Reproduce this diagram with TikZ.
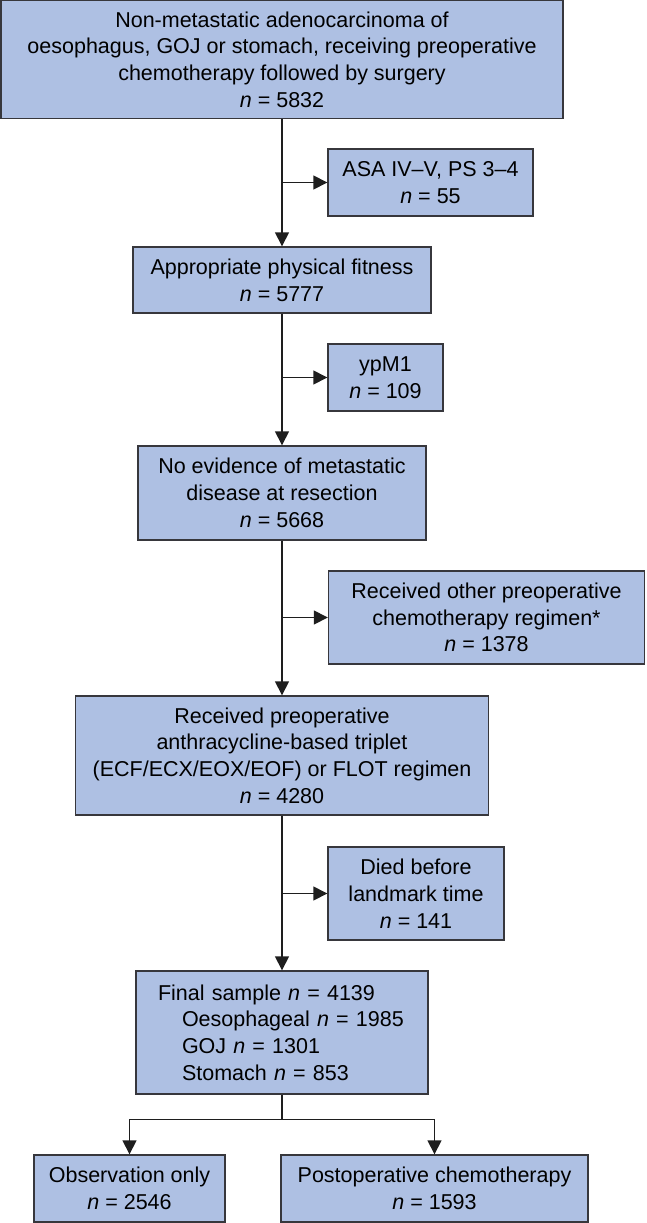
\documentclass[tikz,border=0pt]{standalone}
\usepackage{fontspec}
\setmainfont{Liberation Sans}
\usetikzlibrary{arrows.meta}
\definecolor{boxfill}{RGB}{174,192,227}
\definecolor{boxline}{RGB}{55,55,60}
\definecolor{arrline}{RGB}{30,30,30}
\tikzset{
 box/.style={draw=boxline, line width=1.4pt, fill=boxfill, inner sep=0pt, align=center,
   font=\fontsize{21.5}{26.7}\selectfont},
 arr/.style={draw=arrline, line width=1.5pt, -{Triangle[length=14pt,width=14pt]}},
 ln/.style={draw=arrline, line width=1.5pt},
}
\newcommand{\nval}{\textit{n}}
\begin{document}
\begin{tikzpicture}[x=1pt,y=-1pt]
\useasboundingbox (0,0) rectangle (646,1223);
\node[box, minimum width=562pt, minimum height=118pt] (b1) at (282,59.5)
  {Non-metastatic adenocarcinoma of\\oesophagus, GOJ or stomach, receiving preoperative\\chemotherapy followed by surgery\\\nval{} = 5832};
\node[box, minimum width=205pt, minimum height=67pt] (asa) at (430.5,182.5)
  {ASA IV–V, PS 3–4\\\nval{} = 55};
\node[box, minimum width=298pt, minimum height=66pt] (fit) at (282,280)
  {Appropriate physical fitness\\\nval{} = 5777};
\node[box, minimum width=115pt, minimum height=67pt] (ypm) at (385.5,377.5)
  {ypM1\\\nval{} = 109};
\node[box, minimum width=288pt, minimum height=94pt] (noev) at (282,493)
  {No evidence of metastatic\\disease at resection\\\nval{} = 5668};
\node[box, minimum width=316pt, minimum height=93pt] (other) at (486.5,617.5)
  {Received other preoperative\\chemotherapy regimen*\\\nval{} = 1378};
\node[box, minimum width=413pt, minimum height=119pt] (recv) at (282,755.5)
  {Received preoperative\\anthracycline-based triplet\\(ECF/ECX/EOX/EOF) or FLOT regimen\\\nval{} = 4280};
\node[box, minimum width=176pt, minimum height=93pt] (died) at (416,893.5)
  {Died before\\landmark time\\\nval{} = 141};
\node[box, minimum width=292pt, minimum height=123pt, align=left, text width=248pt, inner xsep=22pt] (final) at (282,1032.5)
  {Final sample \nval{} = 4139\\\hspace*{24pt}Oesophageal \nval{} = 1985\\\hspace*{24pt}GOJ \nval{} = 1301\\\hspace*{24pt}Stomach \nval{} = 853};
\node[box, minimum width=191pt, minimum height=67pt] (obs) at (129.5,1188.5)
  {Observation only\\\nval{} = 2546};
\node[box, minimum width=307pt, minimum height=67pt] (post) at (434.5,1188.5)
  {Postoperative chemotherapy\\\nval{} = 1593};
\draw[arr] (b1.south) -- (fit.north);
\draw[arr] (b1.south |- asa.west) -- (asa.west);
\draw[arr] (fit.south) -- (noev.north);
\draw[arr] (fit.south |- ypm.west) -- (ypm.west);
\draw[arr] (noev.south) -- (recv.north);
\draw[arr] (noev.south |- other.west) -- (other.west);
\draw[arr] (recv.south) -- (final.north);
\draw[arr] (recv.south |- died.west) -- (died.west);
\draw[ln] (final.south) -- ++(0,25) coordinate (split);
\draw[arr] (split) -| (obs.north);
\draw[arr] (split) -| (post.north);
\end{tikzpicture}
\end{document}
